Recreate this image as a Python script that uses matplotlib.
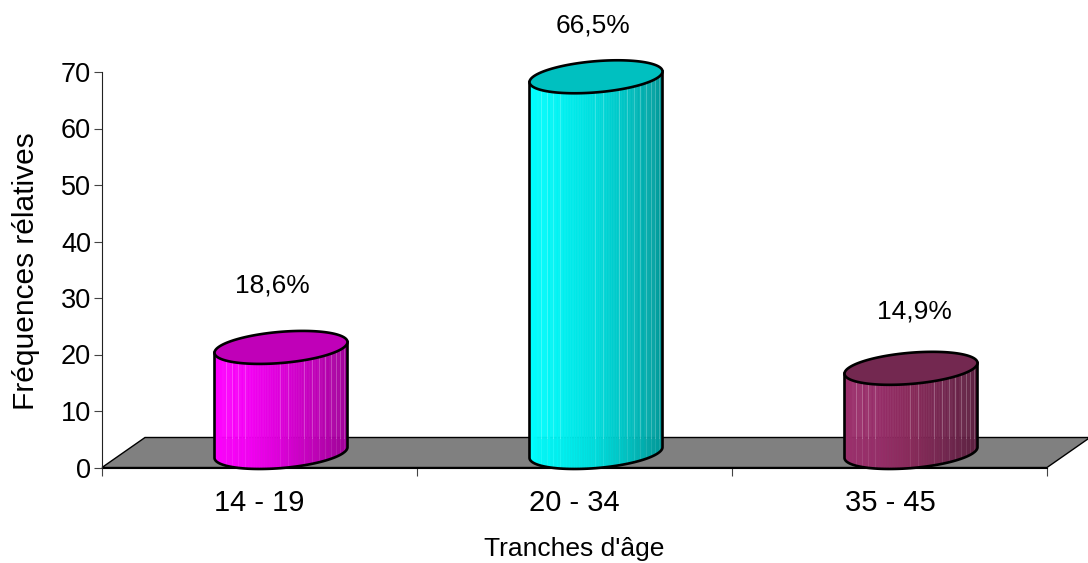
import numpy as np
import matplotlib
matplotlib.use("Agg")
import matplotlib.pyplot as plt
from matplotlib.colors import LinearSegmentedColormap
from matplotlib.patches import Polygon

# ── Data ─────────────────────────────────────────────────────
age_groups = ["14 - 19", "20 - 34", "35 - 45"]
frequencies = [18.6, 66.5, 14.9]
value_labels = ["18,6%", "66,5%", "14,9%"]
y_ticks = [0, 10, 20, 30, 40, 50, 60, 70]

# Style
plt.rcParams["font.family"] = ["Liberation Sans", "DejaVu Sans"]
W, H = 1088, 563
LEFT, RIGHT, TOP, BOTTOM = 102, 1047, 72, 467.5   # plot box in pixels
DEPTH_X, DEPTH_Y = 43, 30                         # floor depth in pixels
HALF_WIDTH = 66.5                                 # cylinder half width in pixels
RING_DX, RING_DY = 21.5, 16.5                     # oblique part of the ring

side_colors = [
    ["#FF00FF", "#F400F4", "#DC00D8", "#C000B8", "#A00098"],
    ["#00FFFF", "#00F0F0", "#00DCDC", "#00C0C0", "#009898"],
    ["#9C2F6C", "#962D68", "#882A5A", "#73264F", "#5C1F3F"],
]
top_colors = ["#C000B8", "#00C0C0", "#732850"]
# where the thin facet lines fall across a cylinder (0 = left, 1 = right)
facets = [.09, .13, .174, .228, .494, .556, .67, .73, .785, .83, .875, .91, .94, .97]

fig = plt.figure(figsize=(W / 100, H / 100), dpi=100, facecolor="white")
ax = fig.add_axes([LEFT / W, 1 - BOTTOM / H, (RIGHT - LEFT) / W, (BOTTOM - TOP) / H])
ax.set_xlim(0, len(age_groups))
ax.set_ylim(0, 70)
sx = len(age_groups) / (RIGHT - LEFT)   # data units per pixel
sy = 70 / (BOTTOM - TOP)

# ── Floor ────────────────────────────────────────────────────
floor = [(0, 0), (3, 0), (3 + DEPTH_X * sx, DEPTH_Y * sy), (DEPTH_X * sx, DEPTH_Y * sy)]
ax.add_patch(Polygon(floor, closed=True, facecolor="#808080", edgecolor="black",
                     linewidth=1, clip_on=False, zorder=1))


def ring(cx, base, theta):
    """Point on the oblique cylinder ring, theta=pi is left, 2*pi is right."""
    wx = np.sqrt(HALF_WIDTH ** 2 - RING_DX ** 2)
    t = theta + np.arctan2(RING_DX, wx)
    # t measured so the horizontal extremes land on theta = pi and 2*pi
    return (cx + (wx * np.cos(t) + RING_DX * np.sin(t)) * sx,
            base + RING_DY * np.sin(t) * sy)


# ── Cylinders ────────────────────────────────────────────────
for i, val in enumerate(frequencies):
    cx = i + 0.5 + DEPTH_X / 2 * sx
    cb = DEPTH_Y / 2 * sy
    cmap = LinearSegmentedColormap.from_list("side", side_colors[i])

    theta = np.linspace(np.pi, 2 * np.pi, 121)
    xs, ys = ring(cx, cb, theta)
    frac = (xs - xs[0]) / (xs[-1] - xs[0])

    # side bands
    for j in range(len(theta) - 1):
        poly = [(xs[j], ys[j]), (xs[j + 1], ys[j + 1]),
                (xs[j + 1], ys[j + 1] + val), (xs[j], ys[j] + val)]
        ax.add_patch(Polygon(poly, closed=True, facecolor=cmap(frac[j]), edgecolor=cmap(frac[j]),
                             linewidth=0.4, clip_on=False, zorder=2))

    # facet lines, fainter where the floor shows behind
    floor_y = DEPTH_Y * sy
    for f in facets:
        fx = xs[0] + f * (xs[-1] - xs[0])
        fy = np.interp(fx, xs, ys)
        ax.plot([fx, fx], [floor_y, fy + val], color="white", lw=0.6, alpha=0.28,
                clip_on=False, zorder=3)
        ax.plot([fx, fx], [fy, floor_y], color="white", lw=0.6, alpha=0.12,
                clip_on=False, zorder=3)

    # outline of the side
    ax.plot(np.r_[xs[0], xs, xs[-1]], np.r_[ys[0] + val, ys, ys[-1] + val], color="black",
            lw=1.9, clip_on=False, zorder=4, solid_joinstyle="round")

    # top ellipse
    theta_all = np.linspace(0, 2 * np.pi, 181)
    tx, ty = ring(cx, cb + val, theta_all)
    ax.add_patch(Polygon(np.c_[tx, ty], closed=True, facecolor=top_colors[i], edgecolor="black",
                         linewidth=1.9, clip_on=False, zorder=5))

# ── Axes ─────────────────────────────────────────────────────
for side in ["top", "right"]:
    ax.spines[side].set_visible(False)
ax.patch.set_visible(False)
ax.spines["left"].set_color("#222222")
ax.spines["bottom"].set_color("black")
ax.spines["left"].set_zorder(6)
ax.set_yticks(y_ticks)
ax.set_yticklabels([str(v) for v in y_ticks], fontsize=19.5)
ax.set_xticks(range(len(age_groups) + 1))
ax.set_xticklabels([])
ax.tick_params(axis="y", length=5.5, width=0.8, color="#444444", pad=2.5)
ax.tick_params(axis="x", length=6, width=0.8, color="#444444")


def px(x, y):
    return x / W, 1 - y / H


# ── Text ─────────────────────────────────────────────────────
cat_x = [259, 574, 890]
for x, label in zip(cat_x, age_groups):
    fig.text(*px(x, 503), label, ha="center", va="center", fontsize=21)

label_xy = [(272, 285), (593, 25), (914, 312)]
for (x, y), label in zip(label_xy, value_labels):
    fig.text(*px(x, y), label, ha="center", va="center", fontsize=19)

fig.text(*px(574, 549), "Tranches d'âge", ha="center", va="center", fontsize=19)
fig.text(*px(26, 271), "Fréquences rélatives", ha="center", va="center",
         rotation=90, fontsize=21.5)

plt.savefig("out.png", dpi=100, facecolor="white")
plt.close()
